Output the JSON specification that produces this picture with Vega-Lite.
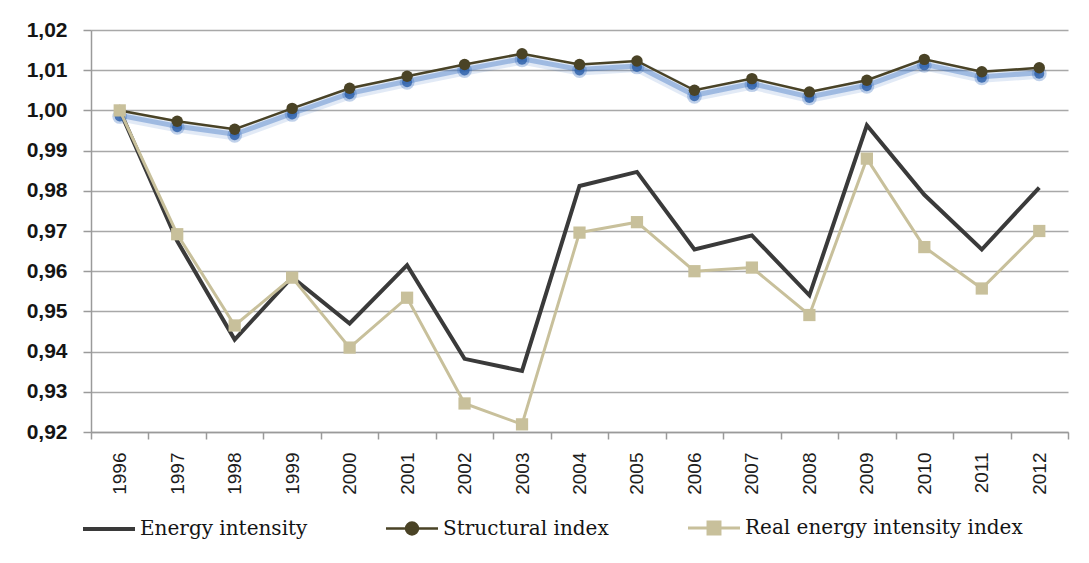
{
  "$schema": "https://vega.github.io/schema/vega-lite/v6.json",
  "width": 977,
  "height": 402,
  "autosize": {"type": "none"},
  "padding": {"left": 91, "top": 30, "right": 21, "bottom": 131},
  "background": "white",
  "config": {
    "view": {"stroke": null},
    "axis": {"domainColor": "#9a9a9a", "domainWidth": 1.5, "tickColor": "#9a9a9a", "tickWidth": 1.5, "gridColor": "#a8a8a8", "gridWidth": 1.5}
  },
  "data": {
    "values": [
      {"year": 1996, "series": "Energy intensity", "value": 1.0},
      {"year": 1997, "series": "Energy intensity", "value": 0.9675},
      {"year": 1998, "series": "Energy intensity", "value": 0.943},
      {"year": 1999, "series": "Energy intensity", "value": 0.9585},
      {"year": 2000, "series": "Energy intensity", "value": 0.947},
      {"year": 2001, "series": "Energy intensity", "value": 0.9615},
      {"year": 2002, "series": "Energy intensity", "value": 0.9382},
      {"year": 2003, "series": "Energy intensity", "value": 0.9352},
      {"year": 2004, "series": "Energy intensity", "value": 0.9812},
      {"year": 2005, "series": "Energy intensity", "value": 0.9847},
      {"year": 2006, "series": "Energy intensity", "value": 0.9654},
      {"year": 2007, "series": "Energy intensity", "value": 0.9689},
      {"year": 2008, "series": "Energy intensity", "value": 0.954},
      {"year": 2009, "series": "Energy intensity", "value": 0.9963},
      {"year": 2010, "series": "Energy intensity", "value": 0.979},
      {"year": 2011, "series": "Energy intensity", "value": 0.9654},
      {"year": 2012, "series": "Energy intensity", "value": 0.9808},
      {"year": 1996, "series": "Structural index", "value": 1.0},
      {"year": 1997, "series": "Structural index", "value": 0.9973},
      {"year": 1998, "series": "Structural index", "value": 0.9953},
      {"year": 1999, "series": "Structural index", "value": 1.0005},
      {"year": 2000, "series": "Structural index", "value": 1.0055},
      {"year": 2001, "series": "Structural index", "value": 1.0085},
      {"year": 2002, "series": "Structural index", "value": 1.0114},
      {"year": 2003, "series": "Structural index", "value": 1.0141},
      {"year": 2004, "series": "Structural index", "value": 1.0114},
      {"year": 2005, "series": "Structural index", "value": 1.0123},
      {"year": 2006, "series": "Structural index", "value": 1.005},
      {"year": 2007, "series": "Structural index", "value": 1.0079},
      {"year": 2008, "series": "Structural index", "value": 1.0046},
      {"year": 2009, "series": "Structural index", "value": 1.0075},
      {"year": 2010, "series": "Structural index", "value": 1.0127},
      {"year": 2011, "series": "Structural index", "value": 1.0096},
      {"year": 2012, "series": "Structural index", "value": 1.0106},
      {"year": 1996, "series": "Real energy intensity index", "value": 1.0},
      {"year": 1997, "series": "Real energy intensity index", "value": 0.9692},
      {"year": 1998, "series": "Real energy intensity index", "value": 0.9465},
      {"year": 1999, "series": "Real energy intensity index", "value": 0.9584},
      {"year": 2000, "series": "Real energy intensity index", "value": 0.941},
      {"year": 2001, "series": "Real energy intensity index", "value": 0.9534},
      {"year": 2002, "series": "Real energy intensity index", "value": 0.9271},
      {"year": 2003, "series": "Real energy intensity index", "value": 0.9219},
      {"year": 2004, "series": "Real energy intensity index", "value": 0.9696},
      {"year": 2005, "series": "Real energy intensity index", "value": 0.9722},
      {"year": 2006, "series": "Real energy intensity index", "value": 0.96},
      {"year": 2007, "series": "Real energy intensity index", "value": 0.9609},
      {"year": 2008, "series": "Real energy intensity index", "value": 0.9491},
      {"year": 2009, "series": "Real energy intensity index", "value": 0.988},
      {"year": 2010, "series": "Real energy intensity index", "value": 0.966},
      {"year": 2011, "series": "Real energy intensity index", "value": 0.9557},
      {"year": 2012, "series": "Real energy intensity index", "value": 0.97}
    ]
  },
  "encoding": {
    "x": {"field": "year", "type": "quantitative", "scale": {"domain": [1995.5, 2012.5], "nice": false, "zero": false}, "axis": null},
    "y": {
      "field": "value", "type": "quantitative",
      "scale": {"domain": [0.92, 1.02], "nice": false, "zero": false},
      "axis": {
        "title": null,
        "values": [0.92, 0.93, 0.94, 0.95, 0.96, 0.97, 0.98, 0.99, 1.0, 1.01, 1.02],
        "labelExpr": "replace(format(datum.value, '.2f'), '.', ',')",
        "labelFont": "Liberation Sans", "labelFontWeight": "bold", "labelFontSize": 21, "labelColor": "#151515",
        "tickSize": 8, "labelPadding": 16, "grid": true
      }
    }
  },
  "resolve": {"axis": {"x": "independent"}},
  "layer": [
    {
      "transform": [{"filter": "datum.series === 'Energy intensity'"}],
      "mark": {"type": "line", "strokeWidth": 4},
      "encoding": {
        "x": {"field": "year", "type": "quantitative", "axis": {
          "orient": "bottom", "title": null, "labels": false, "grid": false,
          "values": [1995.5, 1996.5, 1997.5, 1998.5, 1999.5, 2000.5, 2001.5, 2002.5, 2003.5, 2004.5, 2005.5, 2006.5, 2007.5, 2008.5, 2009.5, 2010.5, 2011.5, 2012.5],
          "tickSize": 7
        }},
        "color": {
          "field": "series", "type": "nominal",
          "scale": {"domain": ["Energy intensity", "Structural index", "Real energy intensity index"], "range": ["#3a3a3a", "#4a4326", "#c8c09b"]},
          "legend": {
            "orient": "none", "legendX": 8, "legendY": 488, "direction": "horizontal", "title": null,
            "padding": 0, "columnPadding": 73, "symbolSize": 2704, "labelOffset": 21,
            "labelFont": "DejaVu Serif", "labelFontSize": 20, "labelColor": "#141414", "labelLimit": 400,
            "encode": {
              "symbols": {
                "update": {
                  "shape": {"signal": "datum.value === 'Structural index' ? 'M-1,0H1M0.23,0A0.23,0.23,0,1,1,-0.23,0A0.23,0.23,0,1,1,0.23,0Z' : datum.value === 'Real energy intensity index' ? 'M-1,0H1M-0.23,-0.23H0.23V0.23H-0.23Z' : 'M-1,0H1'"},
                  "fill": {"signal": "scale('color', datum.value)"},
                  "stroke": {"signal": "scale('color', datum.value)"},
                  "strokeWidth": {"signal": "datum.value === 'Energy intensity' ? 4 : datum.value === 'Structural index' ? 2.5 : 3"},
                  "opacity": {"value": 1}
                }
              }
            }
          }
        }
      }
    },
    {
      "transform": [{"filter": "datum.series === 'Structural index'"}],
      "mark": {"type": "line", "color": "#3d72c4", "strokeWidth": 12, "opacity": 0.15, "yOffset": 5},
      "encoding": {}
    },
    {
      "transform": [{"filter": "datum.series === 'Structural index'"}],
      "mark": {"type": "line", "color": "#3d72c4", "strokeWidth": 5, "opacity": 0.4, "yOffset": 5},
      "encoding": {}
    },
    {
      "transform": [{"filter": "datum.series === 'Structural index'"}],
      "mark": {"type": "point", "shape": "circle", "filled": true, "color": "#2f66b8", "size": 220, "opacity": 0.3, "yOffset": 6},
      "encoding": {}
    },
    {
      "transform": [{"filter": "datum.series === 'Structural index'"}],
      "mark": {"type": "point", "shape": "circle", "filled": true, "color": "#2a5ea8", "size": 100, "opacity": 0.8, "yOffset": 6},
      "encoding": {}
    },
    {
      "transform": [{"filter": "datum.series === 'Structural index'"}],
      "mark": {"type": "line", "color": "#4a4326", "strokeWidth": 2.5},
      "encoding": {}
    },
    {
      "transform": [{"filter": "datum.series === 'Structural index'"}],
      "mark": {"type": "point", "shape": "circle", "filled": true, "color": "#4a4326", "size": 130, "opacity": 1},
      "encoding": {}
    },
    {
      "transform": [{"filter": "datum.series === 'Real energy intensity index'"}],
      "mark": {"type": "line", "color": "#c8c09b", "strokeWidth": 3},
      "encoding": {
        "x": {"field": "year", "type": "quantitative", "axis": {
          "orient": "bottom", "title": null, "ticks": false, "tickSize": 0, "domain": false, "grid": false,
          "values": [1996, 1997, 1998, 1999, 2000, 2001, 2002, 2003, 2004, 2005, 2006, 2007, 2008, 2009, 2010, 2011, 2012],
          "format": "d", "labelAngle": 270, "labelAlign": "right", "labelBaseline": "middle",
          "labelPadding": 20, "labelFont": "Liberation Sans", "labelFontSize": 19, "labelColor": "#1c1c1c", "labelOverlap": false
        }}
      }
    },
    {
      "transform": [{"filter": "datum.series === 'Real energy intensity index'"}],
      "mark": {"type": "point", "shape": "square", "filled": true, "color": "#c8c09b", "size": 150, "opacity": 1},
      "encoding": {}
    }
  ]
}
